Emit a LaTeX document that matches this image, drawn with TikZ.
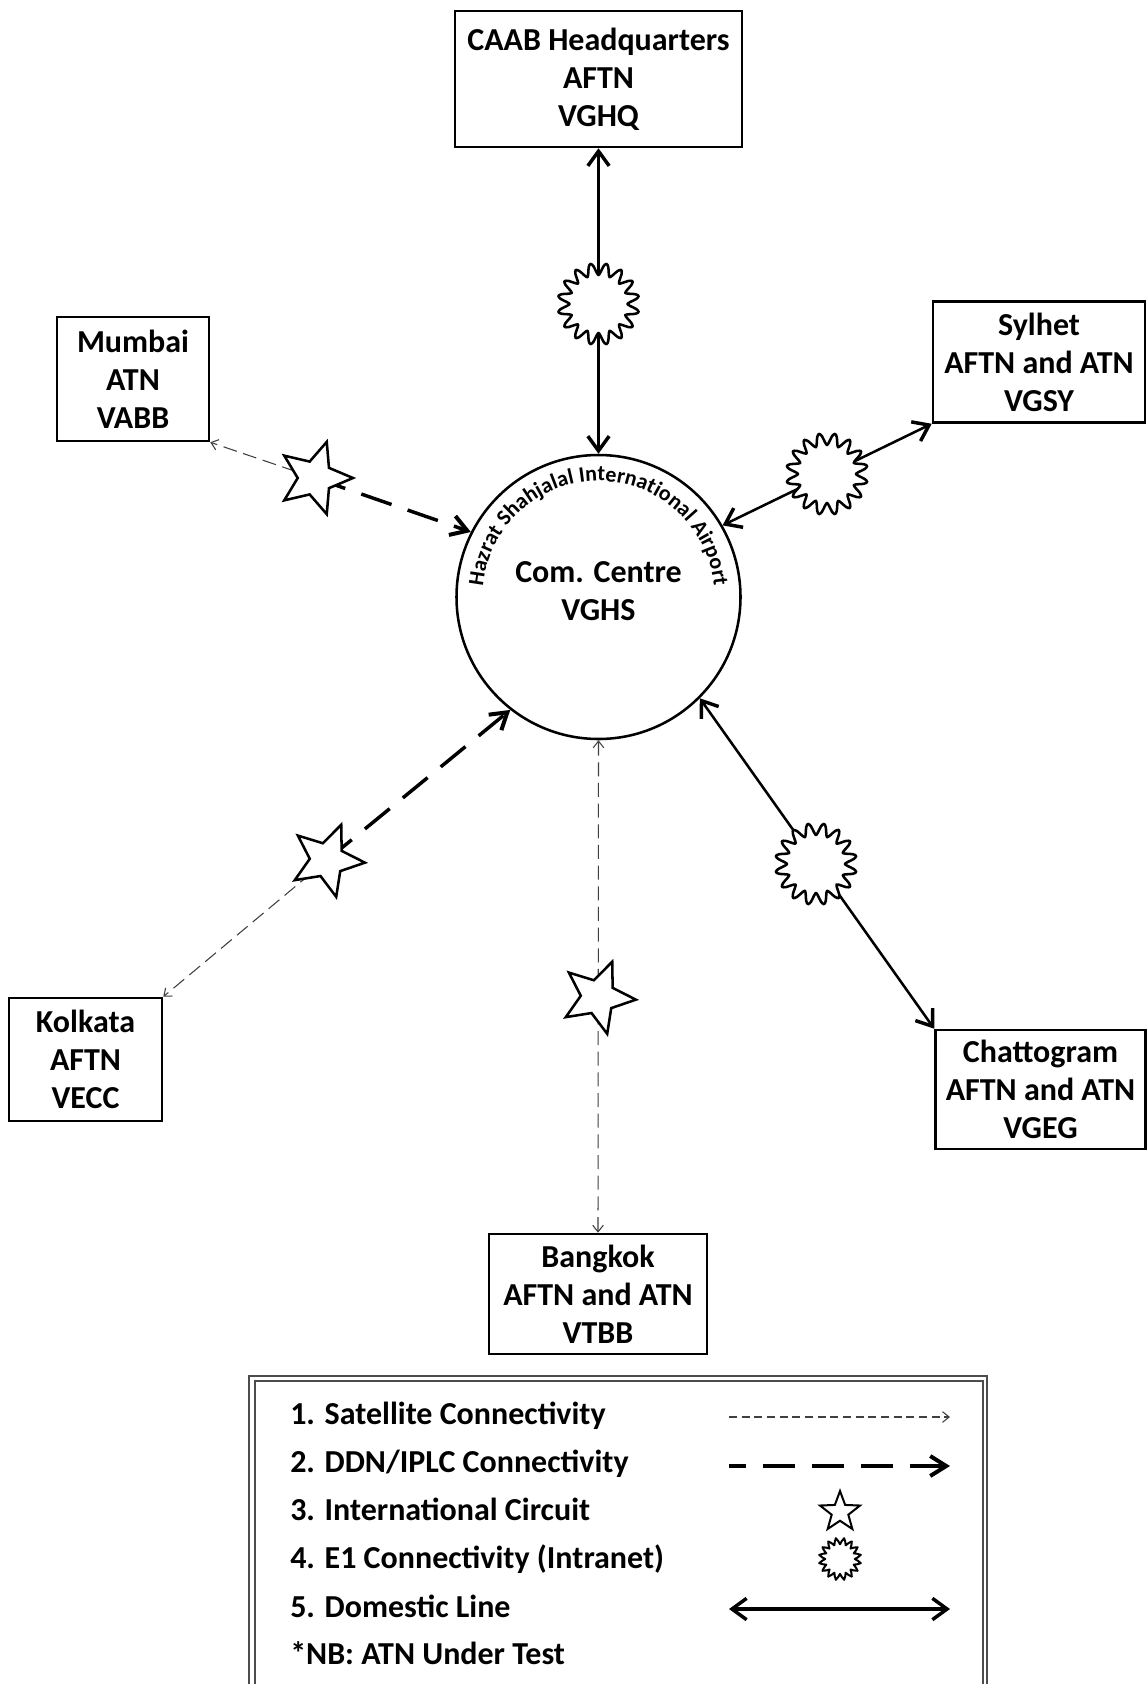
\documentclass[tikz,border=0pt]{standalone}
\usepackage{fontspec}
\setmainfont{Carlito}
\usetikzlibrary{shapes.geometric,arrows.meta,decorations.text}

\tikzset{
  box/.style={draw, line width=1.9pt, inner sep=0pt, align=center,
    font=\fontsize{24}{28.5}\selectfont\bfseries},
  legtext/.style={inner sep=0pt, anchor=base west,
    font=\fontsize{24}{28.5}\selectfont\bfseries},
  barbA/.tip={Straight Barb[length=11pt,width=16pt,line width=2.6pt]},
  barbD/.tip={Straight Barb[length=12pt,width=15pt,line width=3pt]},
  barbS/.tip={Straight Barb[length=5pt,width=8pt]},
  dom/.style={line width=1.9pt, barbA-barbA},
  sat/.style={line width=0.8pt, draw=black!75, dash pattern=on 10.5pt off 5pt, -barbS},
  ddn/.style={line width=2.6pt, dash pattern=on 24pt off 12.75pt, -barbD},
  intl/.style={star, star points=5, star point ratio=2.2, draw, fill=white,
    line width=1.9pt, minimum size=57pt, inner sep=0pt},
  legendframe/.style={line width=1.1pt, draw=black!70},
  eone/.pic={
    \draw[line width=1.9pt, fill=white, line join=round]
      plot[smooth cycle, samples=96, domain=0:356.25] (\x:{35-6*cos(16*\x)});
  },
  eonesmall/.pic={
    \draw[line width=1.5pt, fill=white, line join=round]
      plot[samples=64, domain=0:354.375] (\x:{18-3.2*cos(16*\x)}) -- cycle;
  }
}

\begin{document}
\begin{tikzpicture}[x=0.75pt, y=-0.75pt]
\useasboundingbox (0,0) rectangle (1146,1684);
\fill[white] (0,0) rectangle (1146,1684);

% hub
\node[circle, draw, line width=1.9pt, minimum size=213pt, inner sep=0pt] (hub) at (598.5,597) {};
\node[inner sep=0pt, align=center, font=\fontsize{24}{28.5}\selectfont\bfseries] (hubtext) at (598.5,591) {Com. Centre\\VGHS};
\path[decorate, decoration={text along path,
    text={|\fontsize{16.5}{18}\selectfont\bfseries|Hazrat Shahjalal International Airport},
    text align=center}]
  (hub.center) ++(180:87pt) arc[start angle=180, end angle=0, radius=87pt];

% stations
\node[box, minimum width=215.25pt, minimum height=102pt] (caab) at (598.5,79) {CAAB Headquarters\\AFTN\\VGHQ};
\node[box, minimum width=114pt, minimum height=93pt] (mumbai) at (133,379) {Mumbai\\ATN\\VABB};
\node[box, minimum width=159pt, minimum height=90.75pt] (sylhet) at (1039,362) {Sylhet\\AFTN and ATN\\VGSY};
\node[box, minimum width=114.75pt, minimum height=92.25pt] (kolkata) at (85.5,1059.5) {Kolkata\\AFTN\\VECC};
\node[box, minimum width=157.5pt, minimum height=89.25pt] (chatto) at (1040.5,1089.5) {Chattogram\\AFTN and ATN\\VGEG};
\node[box, minimum width=163.5pt, minimum height=90pt] (bangkok) at (598,1294) {Bangkok\\AFTN and ATN\\VTBB};

% symbol positions
\coordinate (sM) at (315,478);
\coordinate (sK) at (327,860);
\coordinate (sB) at (598,997);
\coordinate (eC) at (598.5,304);
\coordinate (eS) at (827,474);
\coordinate (eG) at (816,864);

% connectors
\draw[dom] (hub.90) -- (caab.south);
\draw[dom] (hub.30) -- (sylhet.south west);
\draw[dom] (hub.315) -- (chatto.north west);
\draw[sat, barbS-barbS] (hub.270) -- (bangkok.north);
\draw[sat] (sM) -- (mumbai.south east);
\draw[ddn] (sM) -- (hub.153);
\draw[sat] (sK) -- (kolkata.north east);
\draw[ddn] (sK) -- (hub.232);

% circuit symbols
\node[intl, shape border rotate=-18] (starM) at (sM) {};
\node[intl, shape border rotate=-22] (starK) at (sK) {};
\node[intl, shape border rotate=-22] (starB) at (sB) {};
\pic at (eC) {eone};
\pic at (eS) {eone};
\pic at (eG) {eone};

% legend
\draw[legendframe] (249,1684) -- (249,1376) -- (987,1376) -- (987,1684);
\draw[legendframe] (255,1684) -- (255,1381) -- (983,1381) -- (983,1684);
\node[legtext] (l1) at (290,1424) {1. Satellite Connectivity};
\node[legtext] (l2) at (290,1472) {2. DDN/IPLC Connectivity};
\node[legtext] (l3) at (290,1520) {3. International Circuit};
\node[legtext] (l4) at (290,1568) {4. E1 Connectivity (Intranet)};
\node[legtext] (l5) at (290,1617) {5. Domestic Line};
\node[legtext] (l6) at (290,1664) {*NB: ATN Under Test};

\coordinate (a1) at (729,1417); \coordinate (b1) at (950,1417);
\coordinate (a2) at (729,1466); \coordinate (b2) at (950,1466);
\coordinate (a5) at (729,1609); \coordinate (b5) at (950,1609);
\draw[sat, dash pattern=on 6pt off 3.5pt] (a1) -- (b1);
\draw[ddn, line width=3pt, dash phase=11.25pt] (a2) -- (b2);
\node[intl, minimum size=31.5pt, star point ratio=2.4, line width=1.5pt] (lstar) at (840,1512) {};
\pic at (840,1559) {eonesmall};
\draw[dom, line width=2.3pt] (a5) -- (b5);
\end{tikzpicture}
\end{document}
